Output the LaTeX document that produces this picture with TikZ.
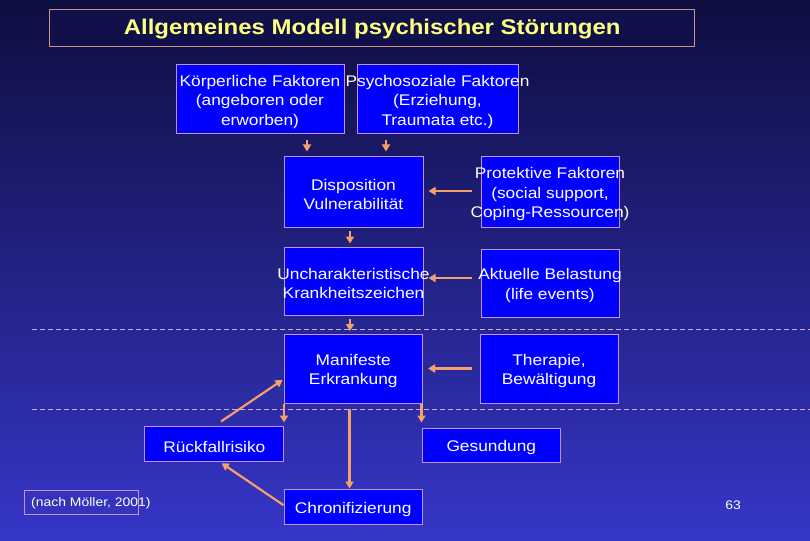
\documentclass[tikz,border=0pt]{standalone}
\usepackage{fontspec}
\setmainfont{Liberation Sans}[FakeStretch=1.125]
\usetikzlibrary{arrows.meta}
\definecolor{bgtop}{HTML}{0E0E40}
\definecolor{bgbot}{HTML}{3636C8}
\definecolor{boxfill}{HTML}{0000FF}
\definecolor{boxline}{HTML}{C890D8}
\definecolor{arrowc}{HTML}{F4A068}
\definecolor{dashc}{HTML}{D8A8E8}
\definecolor{titlefill}{HTML}{10104A}
\definecolor{titleline}{HTML}{D09080}
\definecolor{titletext}{HTML}{FFFF80}
\begin{document}
\begin{tikzpicture}[x=1pt,y=-1pt,
  box/.style={draw=boxline, fill=boxfill, line width=1pt, inner sep=0pt},
  txt/.style={text=white, align=center, font=\fontsize{15.4}{19.5}\selectfont, inner sep=0pt, yshift=-2.5pt},
  small/.style={text=white, font=\fontsize{12.4}{14}\selectfont, inner sep=0pt},
  arr/.style={draw=arrowc, line width=2.2pt, -{Triangle[length=7pt,width=8pt]}},
  sep/.style={draw=dashc, line width=1pt, dash pattern=on 5pt off 3pt},
]
\shade[top color=bgtop, bottom color=bgbot] (0,0) rectangle (810,540);
\useasboundingbox (0,0) rectangle (810,540);

% title
\node[draw=titleline, fill=titlefill, line width=1pt, minimum width=645pt, minimum height=37.7pt,
      inner sep=0pt] (title) at (372.2,27.9) {};
\node[text=titletext, font=\bfseries\fontsize{21.3}{25}\selectfont, inner sep=0pt, yshift=-1.5pt]
      (titlet) at (title) {Allgemeines Modell psychischer Störungen};

% separators
\coordinate (s1a) at (32,329); \coordinate (s1b) at (810,329);
\coordinate (s2a) at (32,409); \coordinate (s2b) at (810,409);
\draw[sep] (s1a) -- (s1b);
\draw[sep] (s2a) -- (s2b);

% boxes
\node[box, minimum width=168pt, minimum height=69pt] (k) at (260,99.5) {};
\node[txt] (kt) at (k) {Körperliche Faktoren\\(angeboren oder\\erworben)};
\node[box, minimum width=161pt, minimum height=69pt] (p) at (437.5,99.5) {};
\node[txt] (pt) at (p) {Psychosoziale Faktoren\\(Erziehung,\\Traumata etc.)};

\node[box, minimum width=139pt, minimum height=70pt] (d) at (353.5,192) {};
\node[txt] (dt) at (d) {Disposition\\Vulnerabilität};
\node[box, minimum width=138pt, minimum height=70pt] (pr) at (550,192) {};
\node[txt] (prt) at (pr) {Protektive Faktoren\\(social support,\\Coping-Ressourcen)};

\node[box, minimum width=139pt, minimum height=68pt] (u) at (353.5,281) {};
\node[txt] (ut) at (u) {Uncharakteristische\\Krankheitszeichen};
\node[box, minimum width=138pt, minimum height=68pt] (ak) at (550,283) {};
\node[txt] (akt) at (ak) {Aktuelle Belastung\\(life events)};

\node[box, minimum width=138.5pt, minimum height=69pt] (m) at (353.25,368.5) {};
\node[txt] (mt) at (m) {Manifeste\\Erkrankung};
\node[box, minimum width=138pt, minimum height=69pt] (th) at (549,368.5) {};
\node[txt] (tht) at (th) {Therapie,\\Bewältigung};

\node[box, minimum width=138.7pt, minimum height=34.6pt] (r) at (214.3,444) {};
\node[txt] (rt) at (r) {Rückfallrisiko};
\node[box, minimum width=138pt, minimum height=34pt] (g) at (491.3,445.3) {};
\node[txt] (gt) at (g) {Gesundung};
\node[box, minimum width=138.3pt, minimum height=35.3pt] (c) at (353.2,506.7) {};
\node[txt] (ct) at (c) {Chronifizierung};

% source and page number
\node[draw=boxline, line width=1pt, minimum width=114.4pt, minimum height=24pt, inner sep=0pt] (mb) at (81.2,502) {};
\node[small, yshift=-1pt] (mbt) at (90.9,502) {(nach Möller, 2001)};
\node[small, yshift=-1pt] (pg) at (733,504) {63};

% arrows
\draw[arr] ([xshift=47pt,yshift=-6pt]k.south) -- ([xshift=47pt,yshift=-17pt]k.south);
\draw[arr] ([xshift=-51.5pt,yshift=-6pt]p.south) -- ([xshift=-51.5pt,yshift=-17pt]p.south);
\draw[arr] ([xshift=-3.5pt,yshift=-3pt]d.south) -- ([xshift=-3.5pt,yshift=3pt]u.north);
\draw[arr] ([xshift=-9pt,yshift=1pt]pr.west) -- ([xshift=5pt,yshift=1pt]d.east);
\draw[arr] ([xshift=-9pt,yshift=5pt]ak.west) -- ([xshift=5pt,yshift=3pt]u.east);
\draw[arr] ([xshift=-3.5pt,yshift=-3pt]u.south) -- ([xshift=-3.25pt,yshift=2.5pt]m.north);
\draw[arr] ([xshift=-8pt]th.west) -- ([xshift=5pt]m.east);
\draw[arr] ([xshift=0.5pt]m.south west) -- ++(0,19);
\draw[arr] ([xshift=-1.5pt]m.south east) -- ++(0,19);
\draw[arr] ([xshift=-3.7pt,yshift=80pt]c.north) -- ([xshift=-3.7pt]c.north);
\draw[arr] ([xshift=6.7pt,yshift=4.7pt]r.north) -- ([xshift=-1pt,yshift=-11.5pt]m.west);
\draw[arr] ([yshift=1.5pt]c.west) -- ([xshift=7.4pt,yshift=-1.4pt]r.south);
\end{tikzpicture}
\end{document}
